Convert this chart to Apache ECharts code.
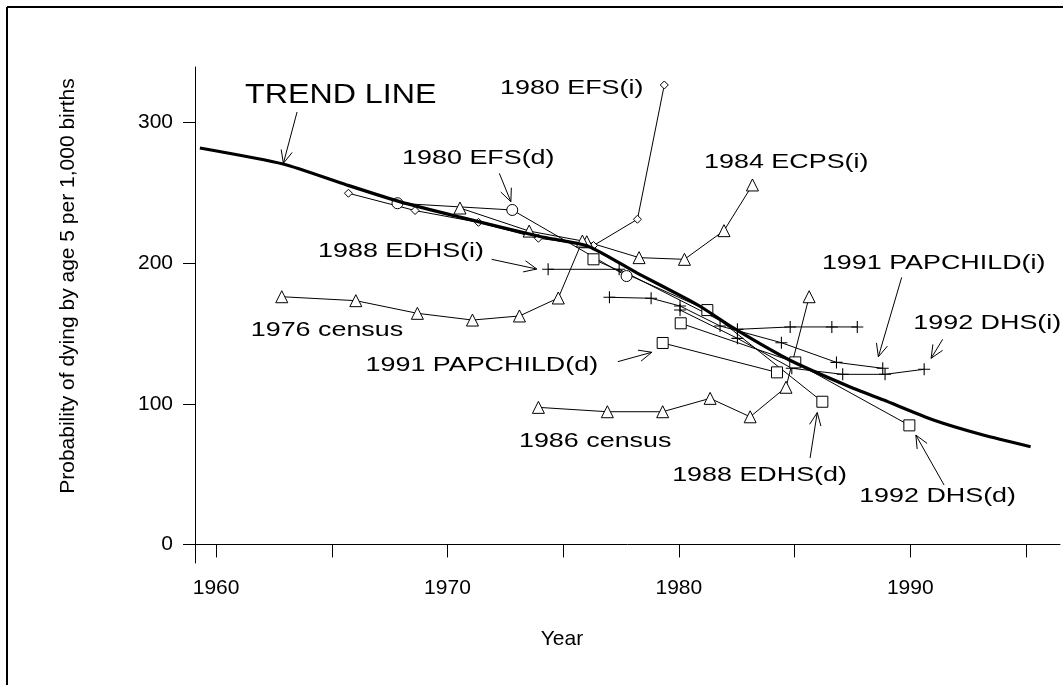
<!DOCTYPE html>
<html><head><meta charset="utf-8">
<script src="https://cdn.jsdelivr.net/npm/echarts@6/dist/echarts.min.js"></script>
<style>html,body{margin:0;padding:0;background:#fff}#c{width:1063px;height:685px}</style>
</head><body><div id="c"></div>
<script>
// ---- data (year, probability per 1,000) ----
const trendLine = [[1959.3,282],[1962.9,270.6],[1965.65,255.7],[1968,243.5],[1970.5,233],[1974,219],[1976.1,212],[1978.2,193],[1980.3,175],[1981.05,168],[1982.35,154],[1984.8,131],[1987.4,112],[1988.85,102.7],[1991,88.5],[1993.15,77.8],[1995.2,69.5]];
const efsIndirect = [[1965.72,249.8],[1968.6,237.5],[1971.34,229.1],[1973.93,217.8],[1976.31,212.6],[1978.21,231.3],[1979.37,326.8]];
const efsDirect = [[1967.84,242.7],[1972.8,237.9],[1977.74,190.9]];
const ecpsIndirect = [[1970.54,239.3],[1973.53,222.9],[1976.02,215.3],[1978.28,204.0],[1980.24,202.8],[1981.95,223.2],[1983.18,255.7]];
const census1976 = [[1962.84,176.2],[1966.04,173.4],[1968.7,164.4],[1971.08,159.6],[1973.11,162.5],[1974.79,175.3],[1975.83,215.8]];
const census1986 = [[1973.93,97.5],[1976.91,94.4],[1979.3,94.4],[1981.35,103.9],[1983.08,90.8],[1984.63,111.8],[1985.63,176.2]];
const edhsIndirect = [[1974.35,195.7],[1977.42,195.7],[1982.53,153.0],[1984.81,154.7],[1986.61,154.7],[1987.71,154.7]];
const papchildIndirect = [[1977.0,175.8],[1978.8,175.1],[1980.05,169.6],[1981.78,155.4],[1984.43,143.5],[1986.81,129.5],[1988.81,125.3]];
const dhsIndirect = [[1980.05,166.8],[1982.53,146.6],[1984.88,125.3],[1987.08,121.0],[1988.91,121.0],[1990.6,124.6]];
const edhsDirect = [[1976.31,202.8],[1981.23,166.7],[1986.2,101.5]];
const papchildDirect = [[1979.3,143.3],[1984.24,122.4]];
const dhsDirect = [[1980.08,157.3],[1985.03,129.5],[1989.96,84.7]];
const yTicks = [0,100,200,300];
const xTicks = [1960,1965,1970,1975,1980,1985,1990,1995];
const xLabels = [1960,1970,1980,1990];
// annotation texts anchored in data space (left edge, vertical middle)
const labelTexts = ["TREND LINE","1980 EFS(i)","1980 EFS(d)","1984 ECPS(i)","1988 EDHS(i)","1976 census","1991 PAPCHILD(d)","1986 census","1988 EDHS(d)","1991 PAPCHILD(i)","1992 DHS(i)","1992 DHS(d)"];
const labelAnchors = [[1961.25,319.7],[1972.27,324.7],[1968.04,274.9],[1981.09,272.0],[1964.41,208.4],[1961.5,152.2],[1966.46,127.3],[1973.09,73.6],[1979.71,49.4],[1986.18,200.0],[1990.13,157.3],[1987.79,34.4]];
// arrows: from (year,value) to (year,value)
const arrows = [[1963.5,307.6,1962.91,271.1],[1972.24,264.0,1972.74,243.8],[1971.91,202.8,1973.86,195.9],[1977.36,130.0,1978.83,136.7],[1985.67,61.5,1985.98,93.8],[1991.46,42.3,1990.24,77.8],[1989.63,190.0,1988.62,133.5],[1991.4,145.9,1990.9,132.4]];

const FONT = '"Liberation Sans", Arial, sans-serif';
const plusPath = 'path://M5,0h1v5h5v1h-5v5h-1v-5h-5v-1h5z';
function obs(name, data, symbol, size) {
  return { name, type:'line', data, symbol, symbolSize:size, showAllSymbol:true,
    lineStyle:{color:'#000', width:1}, itemStyle:{color: symbol===plusPath ? '#000' : '#fff', borderColor:'#000', borderWidth: symbol===plusPath?0:1},
    z:3, animation:false, silent:true };
}
const chart = echarts.init(document.getElementById('c'), null, {renderer:'canvas'});
chart.setOption({
  backgroundColor:'#fff',
  animation:false,
  grid:{left:195, right:3, top:67, bottom:122},
  xAxis:{type:'value', min:1959.09, max:1996.47,
    axisLine:{show:true, lineStyle:{color:'#000', width:1}},
    axisTick:{show:true, length:13, customValues:xTicks, lineStyle:{color:'#000'}},
    axisLabel:{customValues:xLabels, formatter:v=>String(v), color:'#000', fontSize:21, fontFamily:FONT, margin:15},
    splitLine:{show:false}},
  yAxis:{type:'value', min:-13.2, max:339.6,
    axisLine:{show:true, lineStyle:{color:'#000', width:1}},
    axisTick:{show:true, length:12, customValues:yTicks, lineStyle:{color:'#000'}},
    axisLabel:{customValues:yTicks, formatter:v=>String(v), color:'#000', fontSize:21, fontFamily:FONT, margin:22},
    splitLine:{show:false}},
  graphic:[
    {type:'line', shape:{x1:7,y1:7,x2:1063,y2:7}, style:{stroke:'#000', lineWidth:2}},
    {type:'line', shape:{x1:7,y1:7,x2:7,y2:685}, style:{stroke:'#000', lineWidth:2}},
    {type:'text', x:68, y:286, rotation:Math.PI/2, style:{text:'Probability of dying by age 5 per 1,000 births', fontSize:21, fontFamily:FONT, fill:'#000', align:'center', verticalAlign:'middle'}},
    {type:'text', x:562, y:639, style:{text:'Year', fontSize:21, fontFamily:FONT, fill:'#000', align:'center', verticalAlign:'middle'}}
  ],
  series:[
    obs('1980 EFS(i)', efsIndirect, 'diamond', 8),
    obs('1980 EFS(d)', efsDirect, 'circle', 11),
    obs('1984 ECPS(i)', ecpsIndirect, 'triangle', 12),
    obs('1976 census', census1976, 'triangle', 12),
    obs('1986 census', census1986, 'triangle', 12),
    obs('1988 EDHS(i)', edhsIndirect, plusPath, 12),
    obs('1991 PAPCHILD(i)', papchildIndirect, plusPath, 12),
    obs('1992 DHS(i)', dhsIndirect, plusPath, 12),
    obs('1988 EDHS(d)', edhsDirect, 'rect', 11),
    obs('1991 PAPCHILD(d)', papchildDirect, 'rect', 11),
    obs('1992 DHS(d)', dhsDirect, 'rect', 11),
    {name:'Trend line', type:'line', data:trendLine, symbol:'none', smooth:0.2, lineStyle:{color:'#000', width:3.2}, z:4, animation:false},
    {type:'custom', data:arrows, clip:false, z:5, animation:false, silent:true,
      renderItem:(params, api)=>{
        const a = api.coord([api.value(0), api.value(1)]);
        const b = api.coord([api.value(2), api.value(3)]);
        const ang = Math.atan2(b[1]-a[1], b[0]-a[0]);
        const L = 14, w = 0.42;
        const h1 = [b[0]-L*Math.cos(ang-w), b[1]-L*Math.sin(ang-w)];
        const h2 = [b[0]-L*Math.cos(ang+w), b[1]-L*Math.sin(ang+w)];
        return {type:'group', children:[
          {type:'line', shape:{x1:a[0],y1:a[1],x2:b[0],y2:b[1]}, style:{stroke:'#000', lineWidth:1}},
          {type:'polyline', shape:{points:[h1,b,h2]}, style:{stroke:'#000', lineWidth:1, fill:null}}
        ]};
      }},
    {type:'custom', data:labelAnchors, clip:false, z:6, animation:false, silent:true,
      renderItem:(params, api)=>{
        const p = api.coord([api.value(0), api.value(1)]);
        const t = labelTexts[params.dataIndex];
        const big = t === 'TREND LINE';
        return {type:'text', x:p[0], y:p[1], scaleX: big?1.15:1.28,
          style:{text:t, fontSize: big?28:21, fontFamily:FONT, fill:'#000', align:'left', verticalAlign:'middle'}};
      }}
  ]
});
</script></body></html>
